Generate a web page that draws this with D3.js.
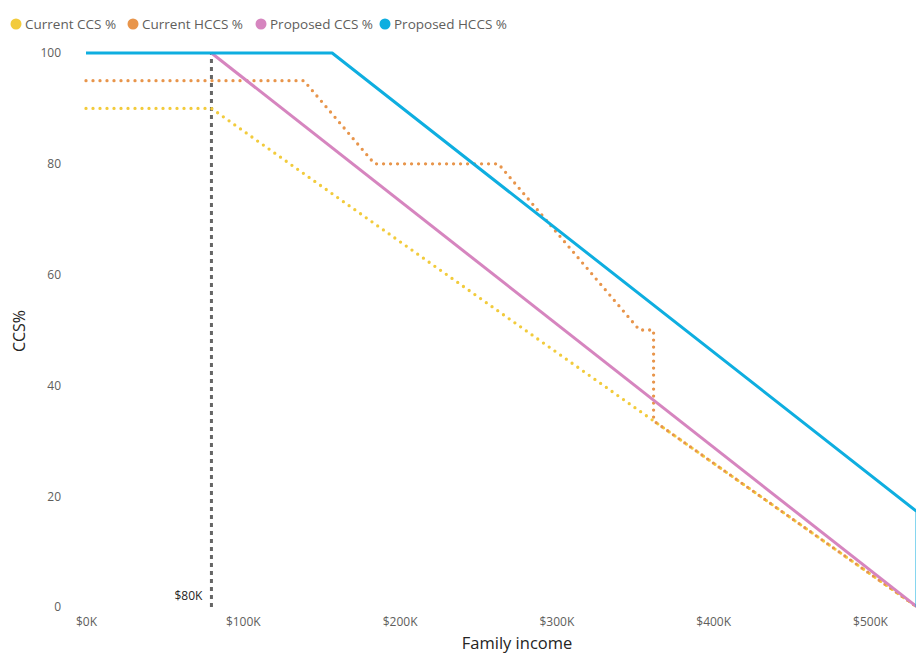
<!DOCTYPE html>
<html>
<head>
<meta charset="utf-8">
<script src="https://cdn.jsdelivr.net/npm/d3@7"></script>
<style>
  html, body { margin: 0; padding: 0; background: #fff; }
  svg { display: block; font-family: "Segoe UI", "Open Sans", "Noto Sans", sans-serif; }
</style>
</head>
<body>
<svg id="chart" width="916" height="653"></svg>
<script>
// Family income in $K, subsidy rate in %
const currentCCS = [[0, 90], [80, 90], [530, 0]];
const currentHCCS = [[0, 95], [139, 95], [184, 80], [263, 80], [353, 50], [362, 50], [362, 33.6], [530, 0]];
const proposedCCS = [[80, 100], [530, 0]];
const proposedHCCS = [[0, 100], [157, 100], [530, 17.2], [530, 0]];

const seriesNames = ["Current CCS %", "Current HCCS %", "Proposed CCS %", "Proposed HCCS %"];
const seriesColors = ["#F2CB3C", "#E8954B", "#D685BF", "#0EAEE0"];
const seriesDotted = [true, true, false, false];

const xTicks = [0, 100, 200, 300, 400, 500];
const xTickLabels = ["$0K", "$100K", "$200K", "$300K", "$400K", "$500K"];
const yTicks = [0, 20, 40, 60, 80, 100];
const markerIncome = 80;
const markerLabel = "$80K";

const svg = d3.select("#chart");
const W = 916;

const x = d3.scaleLinear().domain([0, 530]).range([86, 917]);
const y = d3.scaleLinear().domain([0, 100]).range([607, 53]);

svg.append("defs").append("clipPath").attr("id", "plotClip")
  .append("rect").attr("x", 0).attr("y", 40).attr("width", W).attr("height", 575);

// Y axis labels
svg.append("g")
  .attr("transform", "translate(61,0)")
  .call(d3.axisLeft(y).tickValues(yTicks).tickSize(0).tickPadding(0))
  .call(g => g.select(".domain").remove())
  .call(g => g.selectAll("text")
    .attr("fill", "#605E5C").attr("font-size", 12)
    .attr("font-family", "'Segoe UI', 'Open Sans', sans-serif"));

// X axis labels
svg.append("g")
  .attr("transform", "translate(0,617)")
  .call(d3.axisBottom(x).tickValues(xTicks).tickFormat((d, i) => xTickLabels[i]).tickSize(0).tickPadding(0))
  .call(g => g.select(".domain").remove())
  .call(g => g.selectAll("text")
    .attr("fill", "#605E5C").attr("font-size", 12)
    .attr("font-family", "'Segoe UI', 'Open Sans', sans-serif"));

// Axis titles
svg.append("text")
  .attr("x", 517).attr("y", 649)
  .attr("text-anchor", "middle")
  .attr("fill", "#252423").attr("font-size", 16.5)
  .text("Family income");

svg.append("text")
  .attr("transform", "translate(25,331) rotate(-90)")
  .attr("text-anchor", "middle")
  .attr("fill", "#252423").attr("font-size", 16)
  .text("CCS%");

// $80K reference line
svg.append("line")
  .attr("x1", x(markerIncome)).attr("x2", x(markerIncome))
  .attr("y1", y(0)).attr("y2", y(100))
  .attr("stroke", "#666666").attr("stroke-width", 3)
  .attr("stroke-dasharray", "4,4");

svg.append("text")
  .attr("x", x(markerIncome) - 9).attr("y", y(0) - 7)
  .attr("text-anchor", "end")
  .attr("fill", "#252423").attr("font-size", 12)
  .text(markerLabel);

// Series lines
const line = d3.line().x(d => x(d[0])).y(d => y(d[1]));
const allSeries = [currentCCS, currentHCCS, proposedCCS, proposedHCCS];

const plot = svg.append("g").attr("clip-path", "url(#plotClip)");
allSeries.forEach((data, i) => {
  const p = plot.append("path")
    .datum(data)
    .attr("d", line)
    .attr("fill", "none")
    .attr("stroke", seriesColors[i])
    .attr("stroke-width", 3)
    .attr("stroke-linejoin", "round");
  if (seriesDotted[i]) {
    p.attr("stroke-dasharray", "0,7").attr("stroke-linecap", "round").attr("stroke-width", 3.3);
  }
});

// Legend
const legend = svg.append("g").attr("transform", "translate(0,24)");
const legendX = [16, 133, 261, 385];
seriesNames.forEach((name, i) => {
  const g = legend.append("g").attr("transform", `translate(${legendX[i]},0)`);
  g.append("circle").attr("r", 5.5).attr("fill", seriesColors[i]);
  g.append("text")
    .attr("x", 9).attr("y", 0).attr("dy", "0.35em")
    .attr("fill", "#605E5C").attr("font-size", 13.5)
    .text(name);
});
</script>
</body>
</html>
